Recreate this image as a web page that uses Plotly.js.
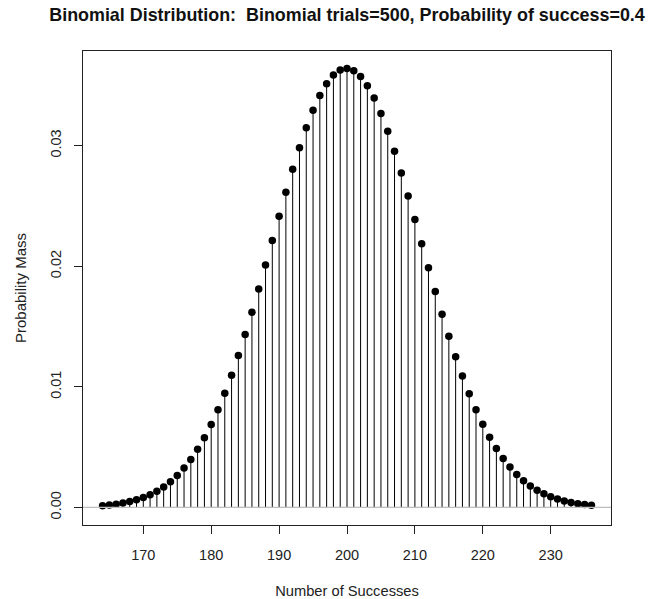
<!DOCTYPE html>
<html>
<head>
<meta charset="utf-8">
<script src="https://cdn.plot.ly/plotly-3.0.1.min.js"></script>
<style>
  html, body { margin: 0; padding: 0; background: #fff; }
  #chart { width: 651px; height: 599px; }
</style>
</head>
<body>
<div id="chart"></div>
<script>
// Number of successes (x) and probability mass (y)
var successes = [164,165,166,167,168,169,170,171,172,173,174,175,176,177,178,179,180,
  181,182,183,184,185,186,187,188,189,190,191,192,193,194,195,196,197,198,199,200,
  201,202,203,204,205,206,207,208,209,210,211,212,213,214,215,216,217,218,219,220,
  221,222,223,224,225,226,227,228,229,230,231,232,233,234,235,236];
var probMass = [0.000150,0.000204,0.000274,0.000366,0.000483,0.000633,0.000822,
  0.001057,0.001348,0.001704,0.002135,0.002652,0.003265,0.003984,0.004819,0.005779,0.006871,
  0.008098,0.009462,0.010962,0.012590,0.014337,0.016187,0.018120,0.020112,0.022134,0.024153,
  0.026134,0.028040,0.029832,0.031472,0.032925,0.034157,0.035139,0.035849,0.036269,0.036390,
  0.036209,0.035731,0.034968,0.033940,0.032671,0.031191,0.029533,0.027735,0.025833,0.023865,
  0.021867,0.019873,0.017914,0.016017,0.014204,0.012494,0.010901,0.009434,0.008099,0.006896,
  0.005825,0.004880,0.004056,0.003344,0.002735,0.002219,0.001785,0.001425,0.001128,0.000886,
  0.000691,0.000534,0.000409,0.000311,0.000235,0.000176];
var xTickVals = [170,180,190,200,210,220,230];
var yTickVals = [0.00,0.01,0.02,0.03];
var yTickText = ["0.00","0.01","0.02","0.03"];

// Build vertical stems (type "h") from the data arrays
var stemX = [], stemY = [];
for (var i = 0; i < successes.length; i++) {
  stemX.push(successes[i], successes[i], null);
  stemY.push(0, probMass[i], null);
}

var fontFam = '"Liberation Sans", Arial, sans-serif';

var traces = [
  {
    type: 'scatter', mode: 'lines', x: stemX, y: stemY,
    line: {color: '#000', width: 1}, hoverinfo: 'skip', showlegend: false
  },
  {
    type: 'scatter', mode: 'markers', x: successes, y: probMass,
    marker: {color: '#000', size: 7.5, symbol: 'circle'}, showlegend: false
  }
];

var layout = {
  width: 651, height: 599,
  paper_bgcolor: '#fff', plot_bgcolor: '#fff',
  margin: {l: 83, r: 40, t: 51, b: 74},
  showlegend: false,
  font: {family: fontFam, size: 15, color: '#222'},
  title: {
    text: '<b>Binomial Distribution:  Binomial trials=500, Probability of success=0.4</b>',
    font: {family: fontFam, size: 17.9, color: '#111'},
    x: 0.5, xanchor: 'center', xref: 'paper',
    y: 0.975, yanchor: 'middle'
  },
  xaxis: {
    range: [161.12, 238.88],
    tickmode: 'array', tickvals: xTickVals,
    ticks: 'outside', ticklen: 8, tickcolor: '#222', tickwidth: 1,
    ticklabelstandoff: 9,
    showgrid: false, zeroline: false,
    showline: true, mirror: true, linecolor: '#222', linewidth: 1,
    tickfont: {family: fontFam, size: 14.5, color: '#222'},
    title: {text: 'Number of Successes', font: {family: fontFam, size: 14.7, color: '#222'}, standoff: 23}
  },
  yaxis: {
    range: [-0.001456, 0.037846],
    tickmode: 'array', tickvals: yTickVals, ticktext: yTickText,
    tickangle: -90,
    ticks: 'outside', ticklen: 8, tickcolor: '#222', tickwidth: 1,
    ticklabelstandoff: 7,
    showgrid: false, zeroline: false,
    showline: true, mirror: true, linecolor: '#222', linewidth: 1,
    tickfont: {family: fontFam, size: 14.5, color: '#222'},
    title: {text: 'Probability Mass', font: {family: fontFam, size: 15, color: '#222'}, standoff: 17}
  },
  shapes: [
    {type: 'line', xref: 'paper', yref: 'y', x0: 0, x1: 1, y0: 0, y1: 0,
     line: {color: '#bebebe', width: 1.2}, layer: 'above'}
  ]
};

Plotly.newPlot('chart', traces, layout, {displayModeBar: false, staticPlot: true});
</script>
</body>
</html>
